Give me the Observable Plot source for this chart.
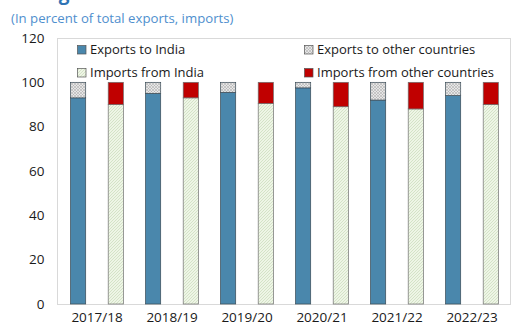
<!DOCTYPE html>
<html>
<head>
<meta charset="utf-8">
<script src="https://cdn.jsdelivr.net/npm/d3@7"></script>
<script src="https://cdn.jsdelivr.net/npm/@observablehq/plot@0.6"></script>
<style>
  html, body { margin: 0; padding: 0; background: #fff; }
  body { font-family: "Open Sans", "Noto Sans", sans-serif; }
  #wrap { position: relative; width: 520px; height: 325px; overflow: hidden; }
  #wrap svg.plot { position: absolute; left: 0; top: 0; overflow: visible; }
  .title { position: absolute; left: 11px; top: -18px; font-size: 19px; font-weight: 700; color: #2f74b5; line-height: 22px; white-space: nowrap; }
  .subtitle { position: absolute; left: 11px; top: 9px; font-size: 13.2px; color: #4f8fce; line-height: 18px; white-space: nowrap; }
  .leg { position: absolute; font-size: 13px; color: #1a1a1a; line-height: 18px; white-space: nowrap; }
  .leg svg { position: absolute; left: 0; top: 5px; }
  .leg span { position: absolute; left: 13px; top: 0; }
</style>
</head>
<body>
<div id="wrap">
  <div class="title">Foreign Trade</div>
  <div class="subtitle">(In percent of total exports, imports)</div>
</div>
<script>
const years = ["2017/18", "2018/19", "2019/20", "2020/21", "2021/22", "2022/23"];
const seriesNames = ["Exports to India", "Exports to other countries", "Imports from India", "Imports from other countries"];
const exportsToIndia   = [93, 95, 95.5, 97.5, 92, 94];
const exportsToOther   = [7, 5, 4.5, 2.5, 8, 6];
const importsFromIndia = [90, 93, 90.5, 89, 88, 90];
const importsFromOther = [10, 7, 9.5, 11, 12, 10];
const yTicks = [0, 20, 40, 60, 80, 100, 120];

const fills = ["#4a87ac", "url(#hatchGray)", "url(#hatchGreen)", "#c00000"];

const exportRows = years.flatMap((year, i) => [
  {year, series: seriesNames[0], value: exportsToIndia[i]},
  {year, series: seriesNames[1], value: exportsToOther[i]}
]);
const importRows = years.flatMap((year, i) => [
  {year, series: seriesNames[2], value: importsFromIndia[i]},
  {year, series: seriesNames[3], value: importsFromOther[i]}
]);

const chart = Plot.plot({
  width: 520,
  height: 325,
  marginLeft: 57,
  marginRight: 10,
  marginTop: 38,
  marginBottom: 21,
  style: {fontFamily: '"Open Sans", "Noto Sans", sans-serif', fontSize: "13.5px", color: "#1a1a1a", background: "transparent"},
  x: {domain: years, padding: 0, tickSize: 0, tickPadding: 8, label: null},
  y: {domain: [0, 120], ticks: yTicks, tickSize: 0, tickPadding: 13, label: null},
  color: {domain: seriesNames, range: fills},
  marks: [
    Plot.frame({stroke: "#d9d9d9"}),
    Plot.barY(exportRows, {x: "year", y: "value", fill: "series", insetLeft: 11.5, insetRight: 48.3, stroke: "#3a4a55", strokeWidth: 0.7}),
    Plot.barY(importRows, {x: "year", y: "value", fill: "series", insetLeft: 49.2, insetRight: 10.6, stroke: "#6f6f6f", strokeWidth: 0.7})
  ]
});
chart.classList.add("plot");

function addGray(d, id) {
  const p = d.append("pattern").attr("id", id).attr("patternUnits", "userSpaceOnUse").attr("width", 3).attr("height", 3);
  p.append("rect").attr("width", 3).attr("height", 3).attr("fill", "#e6e6e6");
  p.append("path").attr("d", "M0,3 L3,0 M0,0 L3,3").attr("stroke", "#a6a6a6").attr("stroke-width", 0.5);
}
function addGreen(d, id) {
  const p = d.append("pattern").attr("id", id).attr("patternUnits", "userSpaceOnUse").attr("width", 3).attr("height", 3);
  p.append("rect").attr("width", 3).attr("height", 3).attr("fill", "#eef5e6");
  p.append("path").attr("d", "M0,3 L3,0").attr("stroke", "#c3d6b2").attr("stroke-width", 0.6);
}

const defs = d3.select(chart).insert("defs", ":first-child");
addGray(defs, "hatchGray");
addGreen(defs, "hatchGreen");

const wrap = document.getElementById("wrap");
wrap.insertBefore(chart, wrap.firstChild);

// Legend (HTML overlay)
const legendPos = [[77, 40], [304, 40], [77, 63], [304, 63]];
seriesNames.forEach((name, si) => {
  const div = document.createElement("div");
  div.className = "leg";
  div.style.left = legendPos[si][0] + "px";
  div.style.top = legendPos[si][1] + "px";
  const sw = d3.create("svg").attr("width", 10).attr("height", 10);
  const d2 = sw.append("defs");
  const pid = "lp" + si;
  if (si === 1) addGray(d2, pid);
  else if (si === 2) addGreen(d2, pid);
  sw.append("rect").attr("x", 0.5).attr("y", 0.5).attr("width", 8.5).attr("height", 8.5)
    .attr("fill", (si === 1 || si === 2) ? `url(#${pid})` : fills[si])
    .attr("stroke", "#555").attr("stroke-width", 0.7);
  div.appendChild(sw.node());
  const span = document.createElement("span");
  span.textContent = name;
  div.appendChild(span);
  wrap.appendChild(div);
});
</script>
</body>
</html>
